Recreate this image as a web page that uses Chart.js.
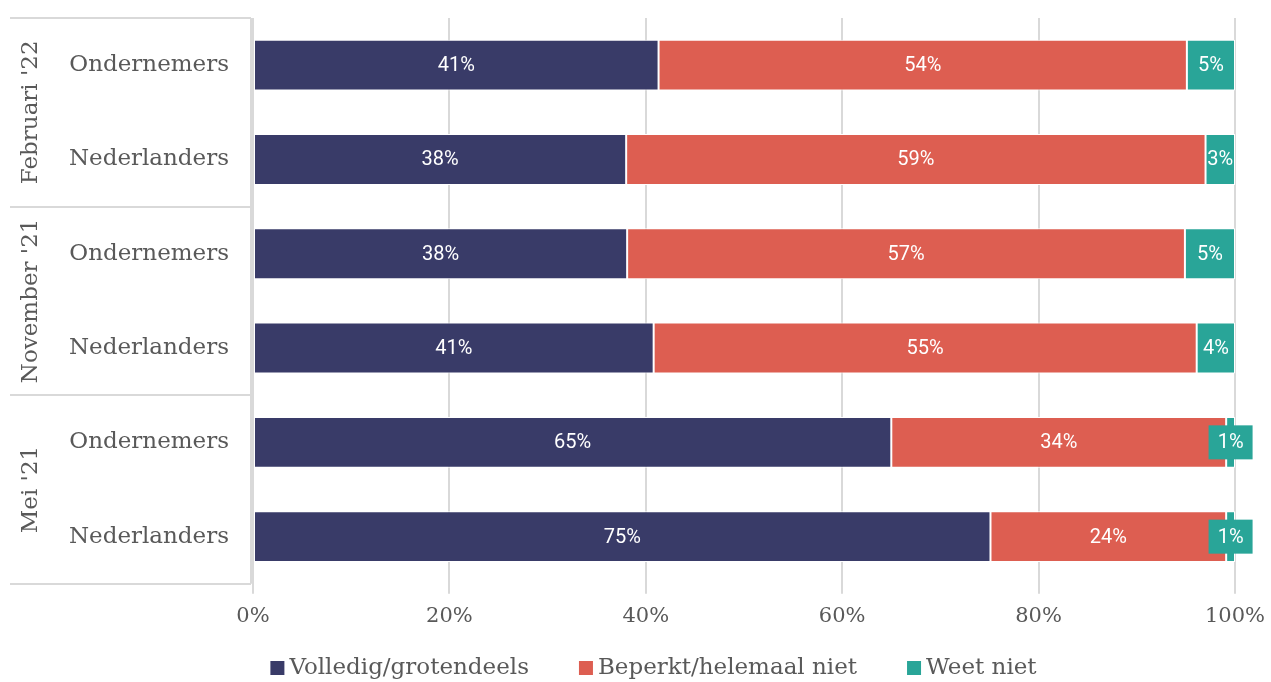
<!DOCTYPE html>
<html>
<head>
<meta charset="utf-8">
<script src="https://cdn.jsdelivr.net/npm/chart.js@4/dist/chart.umd.min.js"></script>
<style>
  html, body { margin: 0; padding: 0; background: #fff; }
  #wrap { width: 1271px; height: 682px; }
</style>
</head>
<body>
<div id="wrap"><canvas id="chart" width="1271" height="682"></canvas></div>
<script>
// data
const categories = ['Ondernemers', 'Nederlanders', 'Ondernemers', 'Nederlanders', 'Ondernemers', 'Nederlanders'];
const groups = ["Februari '22", "November '21", "Mei '21"];
const volledig = [41.3, 38.0, 38.1, 40.8, 65.0, 75.1];
const beperkt = [53.8, 59.0, 56.8, 55.3, 34.1, 24.0];
const weetNiet = [4.9, 3.0, 5.1, 3.9, 0.9, 0.9];
const shownLabels = [
  ['41%', '38%', '38%', '41%', '65%', '75%'],
  ['54%', '59%', '57%', '55%', '34%', '24%'],
  ['5%', '3%', '5%', '4%', '1%', '1%']
];
const xTicks = [0, 20, 40, 60, 80, 100];

const serif = 'DejaVu Serif';
const grey = '#595959';
const lineGrey = '#d9d9d9';

// waarden in de balken
const barLabels = {
  id: 'barLabels',
  afterDatasetsDraw(chart) {
    const ctx = chart.ctx;
    ctx.save();
    ctx.font = '20px Roboto';
    ctx.textAlign = 'center';
    ctx.textBaseline = 'middle';
    chart.data.datasets.forEach((ds, di) => {
      chart.getDatasetMeta(di).data.forEach((bar, i) => {
        const txt = shownLabels[di][i];
        const cx = (bar.x + bar.base) / 2;
        const w = Math.abs(bar.x - bar.base);
        if (w < 20) {
          ctx.fillStyle = ds.backgroundColor;
          ctx.fillRect(cx - 22, bar.y - 17, 44, 34);
        }
        ctx.fillStyle = '#fff';
        ctx.fillText(txt, cx, bar.y + 1);
      });
    });
    ctx.restore();
  }
};

// groepen links met kaders
const groupBoxes = {
  id: 'groupBoxes',
  afterDraw(chart) {
    const ctx = chart.ctx;
    const area = chart.chartArea;
    const step = (area.bottom - area.top) / groups.length;
    ctx.save();
    ctx.strokeStyle = lineGrey;
    ctx.lineWidth = 2;
    for (let g = 0; g <= groups.length; g++) {
      const y = Math.round(area.top + g * step);
      ctx.beginPath();
      ctx.moveTo(10, y);
      ctx.lineTo(area.left - 2, y);
      ctx.stroke();
    }
    ctx.beginPath();
    ctx.moveTo(area.left - 2, area.top);
    ctx.lineTo(area.left - 2, area.bottom);
    ctx.stroke();
    ctx.fillStyle = grey;
    ctx.font = '23px "' + serif + '"';
    ctx.textAlign = 'center';
    ctx.textBaseline = 'middle';
    groups.forEach((g, i) => {
      ctx.save();
      ctx.translate(31, area.top + (i + 0.5) * step);
      ctx.rotate(-Math.PI / 2);
      ctx.fillText(g, 0, 0);
      ctx.restore();
    });
    ctx.restore();
  }
};

// legenda onderaan
const bottomLegend = {
  id: 'bottomLegend',
  afterDraw(chart) {
    const ctx = chart.ctx;
    const box = 14, gapText = 5, gapItem = 50;
    ctx.save();
    ctx.font = '23px "' + serif + '"';
    ctx.textBaseline = 'middle';
    const items = chart.data.datasets.map(ds => ({ label: ds.label, color: ds.backgroundColor, w: ctx.measureText(ds.label).width }));
    const total = items.reduce((s, it) => s + box + gapText + it.w, 0) + gapItem * (items.length - 1);
    let x = chart.width / 2 + 18 - total / 2;
    const y = 668;
    items.forEach(it => {
      ctx.fillStyle = it.color;
      ctx.fillRect(x, y - box / 2, box, box);
      x += box + gapText;
      ctx.fillStyle = grey;
      ctx.fillText(it.label, x, y);
      x += it.w + gapItem;
    });
    ctx.restore();
  }
};

new Chart(document.getElementById('chart'), {
  type: 'bar',
  data: {
    labels: categories,
    datasets: [
      { label: 'Volledig/grotendeels', data: volledig, backgroundColor: '#393b68' },
      { label: 'Beperkt/helemaal niet', data: beperkt, backgroundColor: '#dd5e51' },
      { label: 'Weet niet', data: weetNiet, backgroundColor: '#29a598' }
    ]
  },
  options: {
    indexAxis: 'y',
    responsive: false,
    animation: false,
    datasets: {
      bar: { barPercentage: 0.54, categoryPercentage: 1, borderColor: '#ffffff', borderWidth: 1, borderSkipped: false }
    },
    layout: { padding: { top: 18, left: 10, right: 36, bottom: 43 } },
    plugins: {
      legend: { display: false },
      tooltip: { enabled: false }
    },
    scales: {
      x: {
        stacked: true,
        min: 0,
        max: 100,
        afterBuildTicks(scale) { scale.ticks = xTicks.map(v => ({ value: v })); },
        afterFit(scale) {
          scale.paddingLeft = 0;
          scale.paddingRight = 0;
        },
        ticks: {
          font: { family: serif, size: 21 },
          color: grey,
          padding: 10,
          callback: v => v + '%'
        },
        grid: { color: lineGrey, lineWidth: 2, tickLength: 10 },
        border: { display: false }
      },
      y: {
        stacked: true,
        afterFit(scale) {
          scale.width = 243;
          scale.paddingTop = 0;
          scale.paddingBottom = 0;
        },
        ticks: {
          font: { family: serif, size: 23 },
          color: grey,
          padding: 16
        },
        grid: { display: false },
        border: { display: false }
      }
    }
  },
  plugins: [barLabels, groupBoxes, bottomLegend]
});
</script>
</body>
</html>
